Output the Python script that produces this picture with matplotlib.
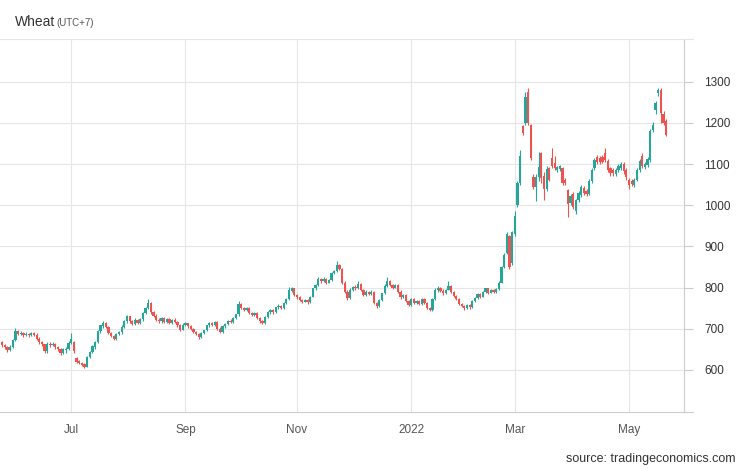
"""
Wheat daily candles, May 2021 - May 2022 (tradingeconomics style).

Output: out.png
"""

import matplotlib
matplotlib.use("Agg")
import matplotlib.pyplot as plt
import numpy as np
import pandas as pd


# CBOT trading days (weekends and exchange holidays dropped)
HOLIDAYS = ["2021-05-31", "2021-07-05", "2021-09-06", "2021-11-25", "2021-12-24",
            "2022-01-17", "2022-02-21", "2022-04-15"]
DATES = pd.bdate_range("2021-05-25", "2022-05-20", freq="C", holidays=HOLIDAYS)

TICK_DATES = ["2021-07-01", "2021-09-01", "2021-11-01", "2022-01-03", "2022-03-01", "2022-05-02"]
TICK_LABELS = ["Jul", "Sep", "Nov", "2022", "Mar", "May"]
Y_TICKS = [600, 700, 800, 900, 1000, 1100, 1200, 1300]

OPENS = [
    667, 660, 655, 648, 656, 672, 695, 688, 690, 684,
    688, 685, 689, 686, 676, 668, 662, 645, 664, 660,
    664, 655, 650, 640, 648, 652, 665, 668, 630, 622,
    618, 614, 608, 632, 643, 655, 668, 695, 706, 714,
    705, 690, 682, 675, 688, 692, 705, 718, 730, 718,
    712, 722, 714, 724, 738, 750, 762, 740, 732, 722,
    718, 726, 716, 724, 714, 722, 716, 708, 698, 710,
    714, 706, 700, 692, 688, 680, 690, 696, 708, 714,
    710, 716, 700, 692, 706, 712, 720, 716, 726, 735,
    760, 750, 745, 750, 738, 734, 738, 726, 718, 714,
    728, 740, 745, 740, 752, 756, 750, 762, 772, 792,
    798, 782, 776, 770, 766, 770, 764, 778, 798, 806,
    822, 815, 822, 812, 818, 835, 840, 855, 845, 812,
    790, 775, 795, 802, 798, 808, 795, 782, 790, 784,
    790, 762, 755, 770, 786, 805, 815, 806, 800, 806,
    790, 776, 782, 768, 758, 772, 762, 768, 760, 772,
    762, 750, 745, 772, 795, 800, 792, 786, 795, 805,
    790, 780, 772, 760, 755, 750, 758, 752, 768, 775,
    785, 778, 790, 798, 788, 794, 790, 796, 812, 850,
    885, 925, 860, 930, 1000, 1055, 1192, 1200, 1275, 1195,
    1068, 1045, 1068, 1128, 1072, 1040, 1090, 1115, 1102, 1085,
    1088, 1090, 1062, 1036, 1005, 1028, 985, 1012, 1025, 1042,
    1035, 1028, 1060, 1090, 1116, 1115, 1116, 1128, 1108, 1090,
    1085, 1075, 1085, 1090, 1100, 1085, 1062, 1060, 1048, 1062,
    1085, 1120, 1092, 1098, 1110, 1182, 1232, 1272, 1279, 1222,
    1205,
]

HIGHS = [
    670, 663, 658, 660, 676, 701, 698, 694, 692, 692,
    690, 693, 691, 689, 679, 671, 664, 667, 668, 668,
    666, 658, 653, 653, 655, 670, 689, 670, 632, 625,
    620, 616, 634, 645, 660, 670, 698, 710, 718, 716,
    707, 693, 686, 690, 695, 708, 722, 734, 732, 722,
    725, 724, 727, 740, 752, 772, 765, 744, 736, 727,
    729, 728, 727, 726, 724, 725, 719, 711, 713, 716,
    715, 708, 702, 695, 690, 692, 698, 710, 716, 717,
    718, 718, 704, 708, 714, 722, 724, 728, 737, 768,
    762, 753, 754, 752, 741, 741, 740, 729, 721, 730,
    742, 748, 747, 754, 759, 758, 764, 775, 802, 801,
    800, 785, 779, 773, 773, 772, 780, 800, 808, 825,
    824, 825, 824, 821, 838, 843, 864, 858, 847, 815,
    795, 798, 805, 806, 815, 810, 797, 793, 792, 793,
    792, 766, 772, 788, 808, 825, 818, 809, 809, 808,
    793, 785, 784, 770, 775, 774, 771, 770, 774, 774,
    764, 753, 775, 798, 803, 802, 797, 797, 815, 807,
    792, 783, 775, 763, 758, 761, 760, 770, 778, 788,
    787, 792, 800, 800, 797, 796, 799, 815, 853, 883,
    935, 928, 938, 985, 1060, 1133, 1195, 1275, 1284, 1198,
    1075, 1075, 1130, 1130, 1080, 1095, 1094, 1140, 1120, 1096,
    1098, 1094, 1066, 1040, 1028, 1032, 1015, 1035, 1050, 1046,
    1040, 1064, 1090, 1115, 1122, 1120, 1122, 1140, 1112, 1094,
    1090, 1090, 1100, 1106, 1104, 1090, 1066, 1064, 1066, 1090,
    1112, 1126, 1104, 1116, 1186, 1202, 1252, 1284, 1284, 1228,
    1210,
]

LOWS = [
    656, 652, 644, 645, 654, 670, 684, 684, 680, 682,
    681, 683, 682, 672, 664, 658, 641, 642, 656, 657,
    651, 646, 636, 638, 641, 648, 662, 642, 617, 614,
    609, 605, 606, 630, 640, 652, 665, 690, 703, 702,
    688, 679, 672, 673, 684, 688, 702, 714, 715, 709,
    710, 711, 712, 720, 735, 747, 737, 729, 719, 715,
    715, 713, 714, 711, 712, 713, 705, 695, 696, 707,
    703, 697, 689, 685, 676, 678, 687, 694, 705, 707,
    707, 697, 689, 690, 703, 709, 713, 714, 723, 732,
    747, 742, 743, 735, 731, 731, 723, 715, 711, 712,
    725, 737, 737, 738, 749, 747, 748, 759, 769, 790,
    779, 773, 767, 763, 764, 761, 762, 776, 795, 804,
    812, 813, 809, 810, 816, 832, 838, 842, 808, 786,
    771, 772, 792, 795, 796, 792, 779, 780, 781, 782,
    759, 751, 752, 768, 784, 802, 803, 797, 798, 787,
    773, 774, 765, 755, 756, 759, 760, 757, 758, 759,
    747, 742, 743, 770, 790, 789, 783, 784, 793, 787,
    777, 769, 757, 752, 746, 748, 749, 750, 765, 772,
    775, 776, 787, 785, 786, 787, 788, 794, 810, 848,
    882, 845, 855, 925, 995, 1050, 1170, 1195, 1195, 1110,
    1040, 1010, 1060, 1055, 1012, 1035, 1058, 1090, 1085, 1080,
    1082, 1050, 1050, 972, 1000, 990, 978, 1008, 1020, 1026,
    1022, 1024, 1055, 1085, 1100, 1100, 1102, 1105, 1080, 1072,
    1072, 1070, 1080, 1086, 1076, 1062, 1040, 1046, 1044, 1058,
    1080, 1090, 1088, 1094, 1106, 1178, 1222, 1266, 1200, 1195,
    1168,
]

CLOSES = [
    660, 655, 648, 656, 672, 695, 688, 690, 684, 688,
    685, 689, 686, 676, 668, 662, 645, 664, 660, 664,
    655, 650, 640, 650, 652, 665, 675, 645, 620, 616,
    612, 608, 632, 643, 658, 668, 695, 708, 714, 705,
    690, 682, 675, 688, 692, 705, 720, 730, 718, 712,
    722, 714, 724, 738, 750, 762, 740, 732, 722, 718,
    726, 716, 724, 714, 722, 716, 708, 698, 710, 714,
    706, 700, 692, 688, 680, 690, 696, 708, 714, 710,
    716, 700, 692, 706, 712, 720, 716, 726, 735, 760,
    750, 745, 750, 738, 734, 738, 726, 718, 714, 728,
    740, 745, 740, 752, 756, 750, 762, 772, 795, 798,
    782, 776, 770, 766, 770, 764, 778, 798, 806, 822,
    815, 822, 812, 818, 835, 840, 855, 845, 812, 790,
    775, 795, 802, 798, 808, 795, 782, 790, 784, 790,
    762, 755, 770, 786, 805, 815, 806, 800, 806, 790,
    776, 782, 768, 758, 772, 762, 768, 760, 772, 762,
    750, 745, 772, 795, 800, 792, 786, 795, 805, 790,
    780, 772, 760, 755, 750, 758, 752, 768, 775, 785,
    778, 790, 798, 788, 794, 790, 796, 812, 850, 880,
    930, 850, 935, 975, 1055, 1120, 1175, 1262, 1200, 1115,
    1045, 1068, 1092, 1065, 1040, 1088, 1062, 1095, 1090, 1092,
    1095, 1055, 1055, 1002, 1022, 995, 1012, 1030, 1044, 1030,
    1028, 1060, 1085, 1110, 1104, 1105, 1106, 1110, 1085, 1078,
    1078, 1085, 1095, 1100, 1082, 1068, 1050, 1052, 1062, 1085,
    1108, 1095, 1100, 1112, 1180, 1195, 1248, 1279, 1225, 1200,
    1170,
]

UP_COLOR = "#26a69a"
DOWN_COLOR = "#ef5350"
GRID = "#e6e6e6"
AXIS = "#cccccc"


def main():
    plt.rcParams["font.family"] = ["Liberation Sans", "DejaVu Sans"]

    fig = plt.figure(figsize=(7.46, 4.68), dpi=100)
    ax = fig.add_axes([0.0, 0.1207, 0.9169, 0.7953])

    o = np.array(OPENS, dtype=float)
    h = np.array(HIGHS, dtype=float)
    lo = np.array(LOWS, dtype=float)
    c = np.array(CLOSES, dtype=float)
    x = np.arange(len(DATES))
    colors = np.where(c >= o, UP_COLOR, DOWN_COLOR)

    ax.vlines(x, lo, h, colors=colors, linewidth=0.8, zorder=2)
    ax.bar(x, np.abs(c - o), bottom=np.minimum(o, c), width=0.85,
           color=colors, linewidth=0, zorder=3)

    ax.set_xlim(-0.8, 256.7)
    ax.set_ylim(499, 1403)

    # month ticks sit on the first trading day of each month
    tick_pos = DATES.searchsorted(pd.to_datetime(TICK_DATES))
    ax.set_xticks(tick_pos)
    ax.set_xticklabels(TICK_LABELS)
    ax.set_yticks(Y_TICKS)
    ax.yaxis.tick_right()

    ax.grid(color=GRID, linewidth=0.8)
    ax.set_axisbelow(True)
    ax.spines["left"].set_visible(False)
    ax.spines["top"].set_color(GRID)
    ax.spines["right"].set_color(AXIS)
    ax.spines["bottom"].set_color(AXIS)
    for s in ax.spines.values():
        s.set_linewidth(0.8)

    ax.tick_params(axis="y", length=6.5, width=0.8, color=AXIS, pad=8,
                   labelsize=8.5, labelcolor="#333333")
    ax.tick_params(axis="x", length=0, pad=9, labelsize=8.5, labelcolor="#555555")

    # short stubs past the right axis at top and bottom
    stub = 9 / 684
    for yy, col in ((0, AXIS), (1, GRID)):
        ax.plot([1, 1 + stub], [yy, yy], transform=ax.transAxes, clip_on=False,
                color=col, linewidth=0.8)

    base_y = 1 - 26 / 468
    fig.text(15 / 746, base_y, "Wheat", fontsize=10, color="#333333", va="baseline")
    fig.text(56 / 746, base_y, "(UTC+7)", fontsize=7, color="#555555", va="baseline")
    fig.text(735 / 746, 1 - 459 / 468, "source: tradingeconomics.com", ha="right",
             va="center", fontsize=9, color="#333333")

    fig.savefig("out.png", dpi=100)
    plt.close(fig)


if __name__ == "__main__":
    main()
